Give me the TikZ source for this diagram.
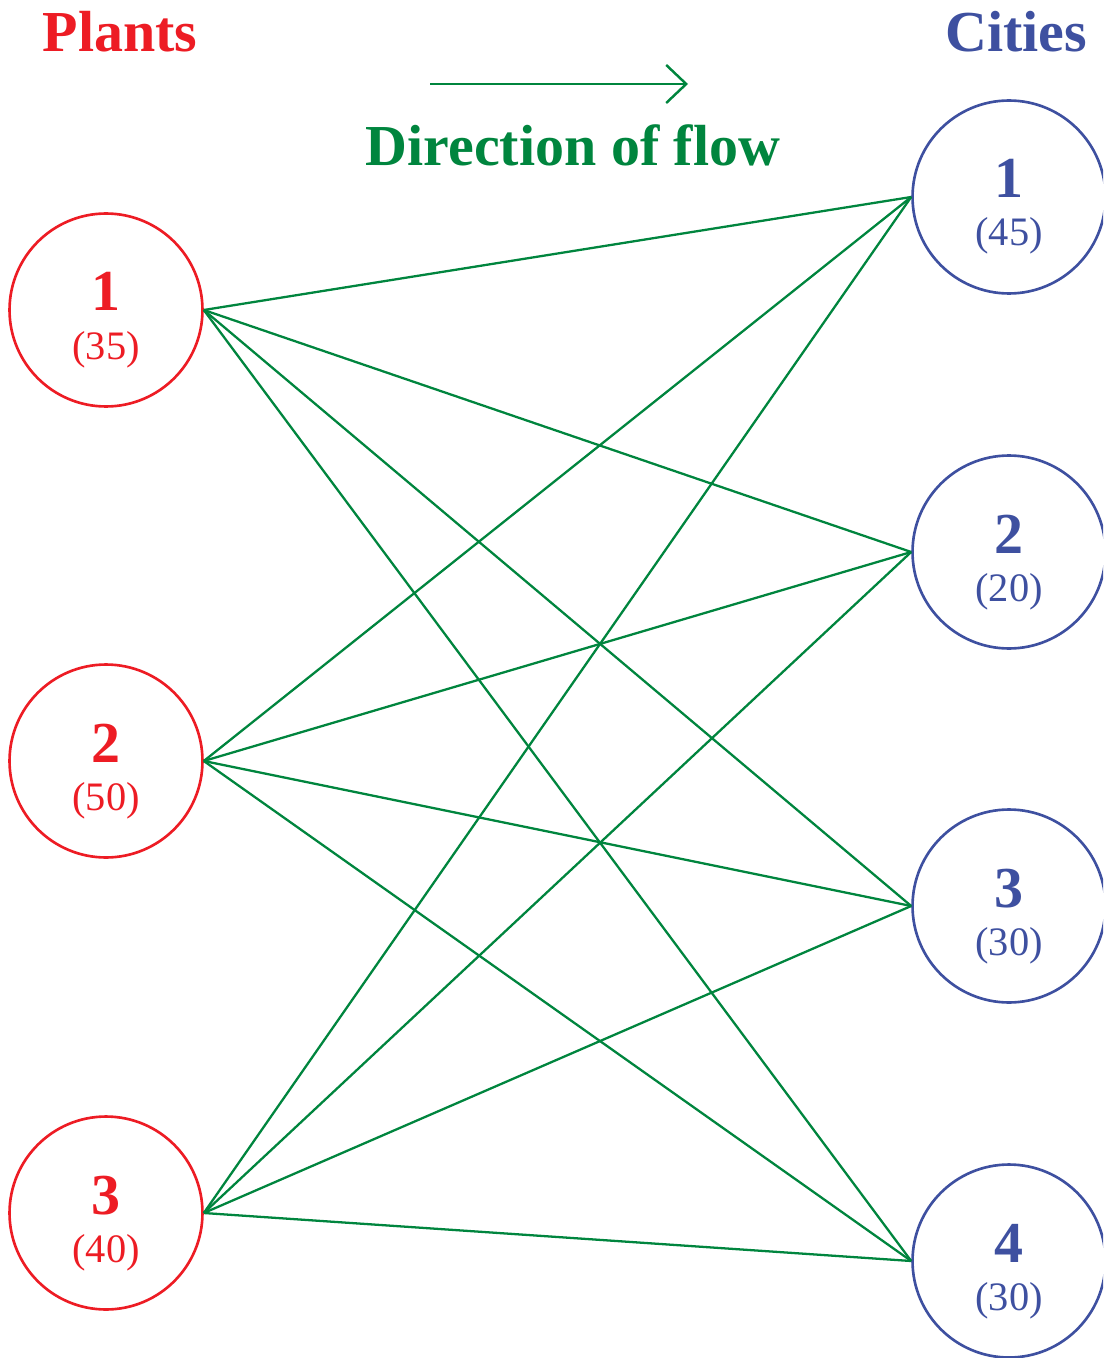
\documentclass[tikz,border=0pt]{standalone}
\usepackage{fontspec}
\setmainfont{Liberation Serif}
\usetikzlibrary{arrows.meta}
\definecolor{pred}{RGB}{237,28,36}
\definecolor{cblue}{RGB}{62,80,160}
\definecolor{fgreen}{RGB}{0,133,62}
\tikzset{
  plant/.style={circle, draw=pred, line width=1.5pt, minimum size=3.86cm, inner sep=0pt},
  city/.style={circle, draw=cblue, line width=1.5pt, minimum size=3.86cm, inner sep=0pt},
  numlbl/.style={anchor=base, inner sep=0pt, font=\fontsize{33}{36}\selectfont\bfseries},
  caplbl/.style={anchor=base, inner sep=0pt, font=\fontsize{23}{26}\selectfont},
  titlelbl/.style={anchor=base, inner sep=0pt, font=\fontsize{33}{36}\selectfont\bfseries},
  flow/.style={draw=fgreen, line width=1.3pt},
}
\begin{document}
\begin{tikzpicture}[x=0.02cm, y=-0.02cm]
\useasboundingbox (0,0) rectangle (1103,1358);
\clip (0,0) rectangle (1103,1358);
% plants
\node[plant] (p1) at (106,310) {};
\node[plant] (p2) at (106,761) {};
\node[plant] (p3) at (106,1213) {};
% cities
\node[city] (c1) at (1009,197) {};
\node[city] (c2) at (1009,552) {};
\node[city] (c3) at (1009,906) {};
\node[city] (c4) at (1009,1261) {};
% labels
\node[numlbl, text=pred] (p1n) at (106,311) {1};
\node[caplbl, text=pred] (p1c) at (106,359) {(35)};
\node[numlbl, text=pred] (p2n) at (106,762) {2};
\node[caplbl, text=pred] (p2c) at (106,810) {(50)};
\node[numlbl, text=pred] (p3n) at (106,1214) {3};
\node[caplbl, text=pred] (p3c) at (106,1262) {(40)};
\node[numlbl, text=cblue] (c1n) at (1009,198) {1};
\node[caplbl, text=cblue] (c1c) at (1009,246) {(45)};
\node[numlbl, text=cblue] (c2n) at (1009,553) {2};
\node[caplbl, text=cblue] (c2c) at (1009,601) {(20)};
\node[numlbl, text=cblue] (c3n) at (1009,907) {3};
\node[caplbl, text=cblue] (c3c) at (1009,955) {(30)};
\node[numlbl, text=cblue] (c4n) at (1009,1262) {4};
\node[caplbl, text=cblue] (c4c) at (1009,1310) {(30)};
% titles
\node[titlelbl, text=pred] (tp) at (120,52) {Plants};
\node[titlelbl, text=cblue] (tc) at (1016,52) {Cities};
\node[titlelbl, text=fgreen] (tf) at (573,166) {Direction of flow};
\coordinate (a0) at (430,84);
\coordinate (a1) at (688,84);
\draw[draw=fgreen, line width=1.4pt, -{Straight Barb[length=0.4cm, width=0.76cm, line width=1.4pt]}] (a0) -- (a1);
% flows
\foreach \p in {p1,p2,p3}{
  \foreach \c in {c1,c2,c3,c4}{
    \draw[flow] (\p.east) -- (\c.west);
  }
}
\end{tikzpicture}
\end{document}
